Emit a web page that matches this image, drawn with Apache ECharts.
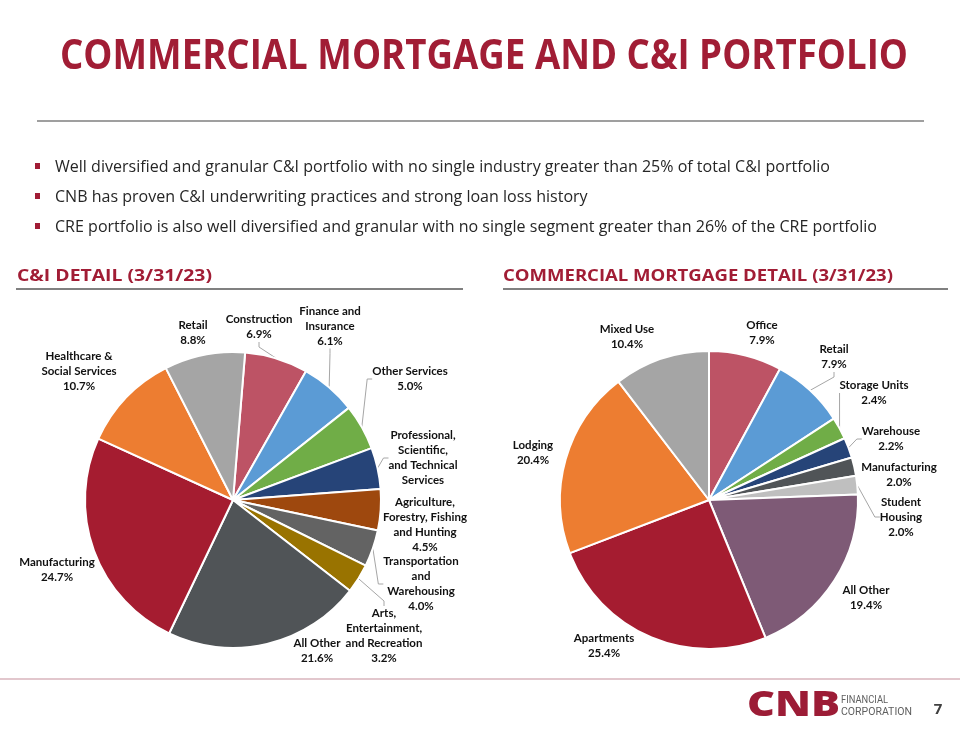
<!DOCTYPE html>
<html>
<head>
<meta charset="utf-8">
<script src="https://cdn.jsdelivr.net/npm/echarts@6/dist/echarts.min.js"></script>
<style>
html,body{margin:0;padding:0;background:#fff;}
#chart{width:960px;height:730px;}
</style>
</head>
<body>
<div id="chart"></div>
<script>
// ---------------- DATA ----------------
const ciCategories = ['Construction', 'Finance and Insurance', 'Other Services',
  'Professional, Scientific, and Technical Services', 'Agriculture, Forestry, Fishing and Hunting',
  'Transportation and Warehousing', 'Arts, Entertainment, and Recreation', 'All Other',
  'Manufacturing', 'Healthcare & Social Services', 'Retail'];
const ciValues = [6.9, 6.1, 5.0, 4.5, 4.5, 4.0, 3.2, 21.6, 24.7, 10.7, 8.8];
const ciLabelNames = ['Construction', 'Finance and\nInsurance', 'Other Services',
  'Professional,\nScientific,\nand Technical\nServices', 'Agriculture,\nForestry, Fishing\nand Hunting',
  'Transportation\nand\nWarehousing', 'Arts,\nEntertainment,\nand Recreation', 'All Other',
  'Manufacturing', 'Healthcare &\nSocial Services', 'Retail'];
const ciHidePercent = ['Professional, Scientific, and Technical Services'];

const cmCategories = ['Office', 'Retail', 'Storage Units', 'Warehouse', 'Manufacturing',
  'Student Housing', 'All Other', 'Apartments', 'Lodging', 'Mixed Use'];
const cmValues = [7.9, 7.9, 2.4, 2.2, 2.0, 2.0, 19.4, 25.4, 20.4, 10.4];
const cmLabelNames = ['Office', 'Retail', 'Storage Units', 'Warehouse', 'Manufacturing',
  'Student\nHousing', 'All Other', 'Apartments', 'Lodging', 'Mixed Use'];

const titleText = 'COMMERCIAL MORTGAGE AND C&I PORTFOLIO';
const bullets = [
  'Well diversified and granular C&I portfolio with no single industry greater than 25% of total C&I portfolio',
  'CNB has proven C&I underwriting practices and strong loan loss history',
  'CRE portfolio is also well diversified and granular with no single segment greater than 26% of the CRE portfolio'
];
const ciHeader = 'C&I DETAIL (3/31/23)';
const cmHeader = 'COMMERCIAL MORTGAGE DETAIL (3/31/23)';

// ---------------- STYLE / LAYOUT ----------------
const ciColors = ['#BD5365', '#5B9BD5', '#70AD47', '#264478', '#9E480E', '#636363',
  '#997300', '#505457', '#A51C30', '#ED7D31', '#A5A5A5'];
const cmColors = ['#BD5365', '#5B9BD5', '#70AD47', '#264478', '#505457', '#BFBFBF',
  '#7E5A76', '#A51C30', '#ED7D31', '#A5A5A5'];
const ciCenter = [233, 500], ciRadius = 148;
const cmCenter = [709, 500], cmRadius = 149;
// label offsets from pie centre
const ciLabelOffsets = [[26,-173],[97,-174],[177,-121],[190,-42],[192,25],[188,84],[151,136],[84,151],[-176,70],[-154,-129],[-40,-167]];
const cmLabelOffsets = [[53,-167],[125,-143],[165,-107],[182,-61],[190,-25],[192,17],[157,98],[-105,146],[-176,-47],[-82,-163]];
const ciLeaders = ['Construction','Finance and Insurance','Other Services','Professional, Scientific, and Technical Services','Transportation and Warehousing','Arts, Entertainment, and Recreation'];
const cmLeaders = ['Retail','Storage Units','Warehouse','Student Housing'];

const RED = '#A11D35';
const labelFont = 'Lato';

const mctx = document.createElement('canvas').getContext('2d');
function textWidth(text, font){ mctx.font = font; return mctx.measureText(text).width; }

function makeData(cats, vals, colors, leaders){
  return cats.map((c,i)=>({
    name: c, value: vals[i],
    itemStyle:{color: colors[i]},
    labelLine:{show: leaders.indexOf(c) >= 0}
  }));
}

function makePie(cats, vals, colors, leaders, labelNames, hide, center, radius, offsets, startAngle){
  return {
    type:'pie',
    center: center,
    radius: radius,
    startAngle: startAngle,
    clockwise: true,
    avoidLabelOverlap: false,
    animation: false,
    itemStyle:{borderColor:'#fff', borderWidth:2},
    label:{
      show:true, position:'outside',
      fontFamily: labelFont, fontWeight:'bold', fontSize:11.5, lineHeight:15,
      color:'#111', align:'center',
      formatter: p => labelNames[p.dataIndex] + (hide.indexOf(p.name) >= 0 ? '' : '\n' + p.value.toFixed(1) + '%')
    },
    labelLine:{lineStyle:{color:'#A6A6A6', width:1}, length:5, length2:5},
    labelLayout: p => ({
      x: center[0] + offsets[p.dataIndex][0],
      y: center[1] + offsets[p.dataIndex][1],
      align:'center', verticalAlign:'middle'
    }),
    emphasis:{disabled:true},
    data: makeData(cats, vals, colors, leaders)
  };
}

const graphics = [];
// title
{
  const font = 'bold 41px "Open Sans"';
  const w = textWidth(titleText, font);
  graphics.push({type:'text', x:60, y:57, scaleX: 848 / w,
    style:{text:titleText, fontFamily:'Open Sans', fontWeight:'bold', fontSize:41, fill:RED, textAlign:'left', textVerticalAlign:'middle'}});
}
graphics.push({type:'line', shape:{x1:37,y1:121,x2:924,y2:121}, style:{stroke:'#7f7f7f', lineWidth:1.5}});
// bullets
{
  const font = '16.5px "Open Sans"';
  const s = 775 / textWidth(bullets[0], font);
  bullets.forEach((b,i)=>{
    const y = 167 + i*30;
    graphics.push({type:'rect', shape:{x:35, y:y-4, width:5, height:6}, style:{fill:RED}});
    graphics.push({type:'text', x:55, y:y, scaleX:s,
      style:{text:b, fontFamily:'Open Sans', fontSize:16.5, fill:'#262626', textAlign:'left', textVerticalAlign:'middle'}});
  });
}
// section headers
{
  const f = 'bold 16px "Open Sans"';
  graphics.push({type:'text', x:17, y:276.5, scaleX:195 / textWidth(ciHeader, f),
    style:{text:ciHeader, fontFamily:'Open Sans', fontWeight:'bold', fontSize:16, fill:RED, textAlign:'left', textVerticalAlign:'middle'}});
  graphics.push({type:'text', x:503, y:276.5, scaleX:390 / textWidth(cmHeader, f),
    style:{text:cmHeader, fontFamily:'Open Sans', fontWeight:'bold', fontSize:16, fill:RED, textAlign:'left', textVerticalAlign:'middle'}});
  graphics.push({type:'line', shape:{x1:16,y1:289,x2:463,y2:289}, style:{stroke:'#808080', lineWidth:2}});
  graphics.push({type:'line', shape:{x1:503,y1:289,x2:948,y2:289}, style:{stroke:'#808080', lineWidth:2}});
}
// footer
graphics.push({type:'line', shape:{x1:0,y1:679,x2:960,y2:679}, style:{stroke:'#D8B4BC', lineWidth:1.5}});
{
  const f = '900 36px "Open Sans"';
  graphics.push({type:'text', x:747, y:706, scaleX: 93 / textWidth('CNB', f),
    style:{text:'CNB', fontFamily:'Open Sans', fontWeight:900, fontSize:36, fill:'#9C1C36', textAlign:'left', textVerticalAlign:'middle'}});
  const f2 = '11px Roboto';
  graphics.push({type:'text', x:841, y:700, scaleX: 47 / textWidth('FINANCIAL', f2),
    style:{text:'FINANCIAL', fontFamily:'Roboto', fontSize:11, fill:'#5f5f5f', textAlign:'left', textVerticalAlign:'middle'}});
  graphics.push({type:'text', x:841, y:712.5, scaleX: 71 / textWidth('CORPORATION', f2),
    style:{text:'CORPORATION', fontFamily:'Roboto', fontSize:11, fill:'#5f5f5f', textAlign:'left', textVerticalAlign:'middle'}});
  graphics.push({type:'text', x:938, y:710,
    style:{text:'7', fontFamily:'Open Sans', fontWeight:'bold', fontSize:15, fill:'#404040', textAlign:'center', textVerticalAlign:'middle'}});
}

const chart = echarts.init(document.getElementById('chart'), null, {renderer:'canvas'});
chart.setOption({
  backgroundColor:'#ffffff',
  animation:false,
  graphic:{elements: graphics},
  series:[
    makePie(ciCategories, ciValues, ciColors, ciLeaders, ciLabelNames, ciHidePercent, ciCenter, ciRadius, ciLabelOffsets, 85.3),
    makePie(cmCategories, cmValues, cmColors, cmLeaders, cmLabelNames, [], cmCenter, cmRadius, cmLabelOffsets, 90)
  ]
});
</script>
</body>
</html>
